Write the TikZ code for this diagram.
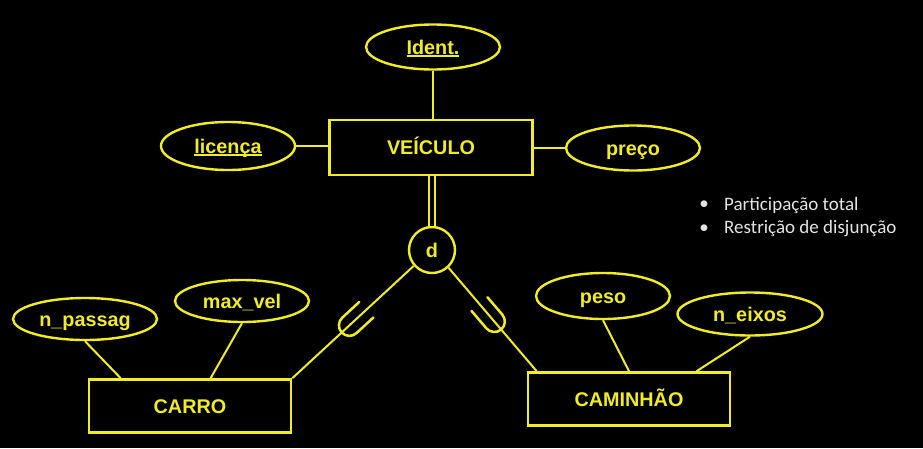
\documentclass[tikz,border=0pt]{standalone}
\usepackage{fontspec}
\setmainfont{Liberation Sans}
\newfontfamily\notefont{Carlito}
\usetikzlibrary{shapes.geometric,calc}
\definecolor{erY}{RGB}{240,236,40}
\definecolor{noteC}{RGB}{228,228,228}
\newcommand\keyul[1]{\setbox0\hbox{#1}\rlap{\rule[-3pt]{\wd0}{1.7pt}}\box0}
\begin{document}
\begin{tikzpicture}[x=1pt,y=-1pt,
  lbl/.style={text=erY, font=\fontsize{19.8}{22}\selectfont\bfseries, text height=14pt, text depth=0pt},
  ent/.style={lbl, draw=erY, line width=2.7pt, minimum width=202pt, minimum height=53pt},
  attr/.style={lbl, ellipse, draw=erY, line width=2.4pt, minimum width=134pt, minimum height=45pt, inner sep=0pt},
  conn/.style={draw=erY, line width=2pt},
  note/.style={text=noteC, font=\notefont\fontsize{19}{22}\selectfont, inner sep=0pt},
  subsetsym/.pic={\draw[erY, line width=2.5pt, line cap=round] (-23,10.5) -- (0,10.5) arc (90:-90:10.5) -- (-23,-10.5);}
]
\fill[black] (0,0) rectangle (923,448);
\useasboundingbox (0,0) rectangle (923,448);

% entities
\node[ent, minimum width=203pt, minimum height=55pt] (veic) at (431,147.5) {VEÍCULO};
\node[ent] (carro) at (190,406) {CARRO};
\node[ent] (cam) at (629,399) {CAMINHÃO};

% attributes
\node[attr] (ident) at (433,47) {\keyul{Ident.}};
\node[attr, minimum height=48pt] (lic) at (228,146) {\keyul{licença}};
\node[attr] (preco) at (633,148) {preço};
\node[attr, minimum width=144pt, minimum height=42pt] (np) at (85,319) {n\_passag};
\node[attr, minimum height=42pt] (mv) at (242,301) {max\_vel};
\node[attr, minimum height=46pt] (peso) at (603,296) {peso};
\node[attr, minimum width=145pt, minimum height=43pt] (ne) at (750,314) {n\_eixos};

% disjointness circle
\node[lbl, circle, draw=erY, line width=2.4pt, minimum size=46pt, inner sep=0pt] (d) at (432,250) {d};

% connectors
\draw[conn] (ident.south) -- (ident.south |- veic.north);
\draw[conn] (lic.east) -- (lic.east -| veic.west);
\draw[conn] (veic.east) -- (veic.east -| preco.west);
\draw[erY, line width=2pt, double=black, double distance=4.5pt] (d.north |- veic.south) -- (d.north);
\draw[conn] (d.221) -- (carro.north east);
\draw[conn] (d.-47) -- ($(cam.north west)+(10,0)$);
\draw[conn] (np.south) -- ($(carro.north west)+(33,0)$);
\draw[conn] (mv.south) -- ($(carro.north west)+(123,0)$);
\draw[conn] (peso.south) -- (cam.north);
\draw[conn] (ne.south) -- ($(cam.north west)+(170,0)$);

% subset symbols
\path let \p1=($(carro.north east)-(d.221)$), \n1={atan2(\y1,\x1)} in
  ($(d.221)!0.53!(carro.north east)$) pic[rotate=\n1] {subsetsym};
\path let \p1=($(cam.north west)+(10,0)-(d.-47)$), \n1={atan2(\y1,\x1)} in
  ($(d.-47)!0.52!($(cam.north west)+(10,0)$)$) pic[rotate=\n1] {subsetsym};

% notes
\node[note] (b1) at (704,205) {•};
\node[note, anchor=west] (t1) at (724,205) {Participação total};
\node[note] (b2) at (704,229) {•};
\node[note, anchor=west] (t2) at (724,229) {Restrição de disjunção};
\end{tikzpicture}
\end{document}
